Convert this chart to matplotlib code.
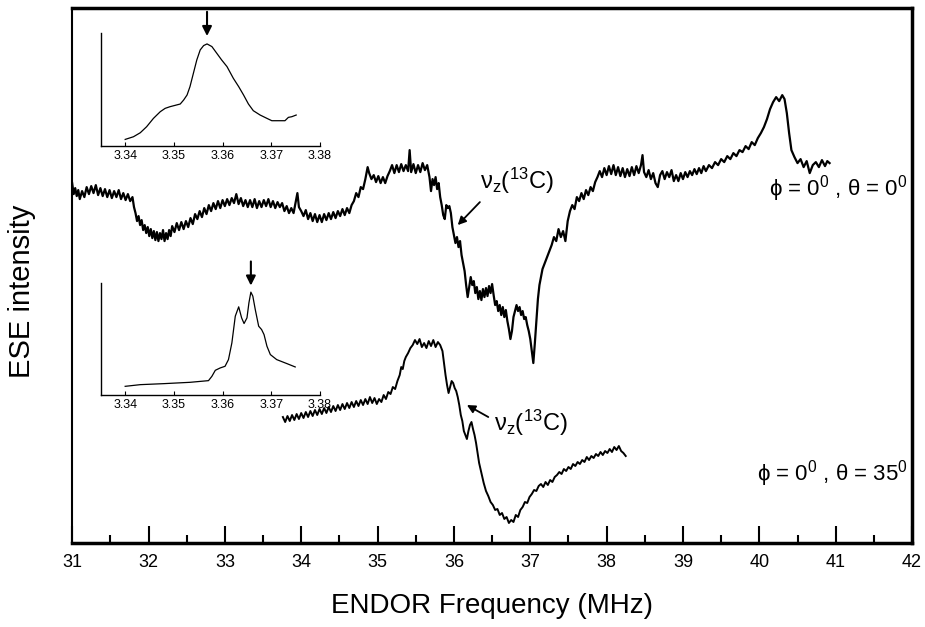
import numpy as np
import matplotlib
matplotlib.use('Agg')
import matplotlib.pyplot as plt

plt.rcParams['font.family'] = ['Liberation Sans', 'DejaVu Sans']
plt.rcParams['mathtext.fontset'] = 'custom'
plt.rcParams['mathtext.rm'] = 'Liberation Sans'
plt.rcParams['mathtext.it'] = 'Liberation Sans'
plt.rcParams['mathtext.default'] = 'regular'

## ---------------- data ----------------
# upper spectrum (phi = 0, theta = 0): (frequency MHz, intensity a.u.)
upper = [(31.00, 360), (31.02, 349), (31.04, 355), (31.06, 347), (31.08, 353), (31.10, 344),
         (31.13, 352), (31.16, 346), (31.19, 356), (31.22, 349), (31.25, 357), (31.28, 350),
         (31.31, 358), (31.34, 348), (31.37, 355), (31.40, 347), (31.43, 354), (31.46, 346),
         (31.49, 353), (31.52, 345), (31.55, 352), (31.58, 346), (31.61, 353), (31.64, 344),
         (31.67, 350), (31.70, 343), (31.73, 349), (31.76, 342), (31.79, 346), (31.81, 336),
         (31.83, 330), (31.85, 322), (31.87, 327), (31.89, 318), (31.91, 323), (31.93, 313),
         (31.95, 318), (31.97, 310), (31.99, 316), (32.01, 307), (32.03, 314), (32.05, 305),
         (32.07, 312), (32.09, 303), (32.11, 311), (32.13, 302), (32.15, 310), (32.17, 304),
         (32.19, 313), (32.21, 302), (32.23, 310), (32.25, 304), (32.27, 313), (32.29, 307),
         (32.31, 317), (32.34, 311), (32.37, 320), (32.40, 313), (32.43, 321), (32.46, 314),
         (32.49, 322), (32.52, 316), (32.55, 325), (32.58, 319), (32.61, 329), (32.64, 324),
         (32.67, 332), (32.70, 326), (32.73, 335), (32.76, 329), (32.79, 338), (32.82, 332),
         (32.85, 340), (32.88, 334), (32.91, 342), (32.94, 335), (32.97, 343), (33.00, 337),
         (33.03, 344), (33.06, 338), (33.09, 345), (33.12, 340), (33.15, 349), (33.18, 339),
         (33.21, 345), (33.24, 337), (33.27, 343), (33.30, 336), (33.33, 343), (33.36, 336),
         (33.39, 344), (33.42, 335), (33.45, 342), (33.48, 336), (33.51, 343), (33.54, 337),
         (33.57, 344), (33.60, 336), (33.63, 342), (33.66, 335), (33.69, 341), (33.72, 336),
         (33.75, 340), (33.78, 332), (33.81, 337), (33.84, 330), (33.87, 335), (33.90, 330),
         (33.93, 342), (33.95, 350), (33.97, 336), (34.00, 332), (34.03, 327), (34.06, 333),
         (34.09, 324), (34.12, 330), (34.15, 322), (34.18, 329), (34.21, 321), (34.24, 328),
         (34.27, 321), (34.30, 329), (34.33, 323), (34.36, 330), (34.39, 324), (34.42, 331),
         (34.45, 325), (34.48, 332), (34.51, 327), (34.54, 334), (34.57, 328), (34.60, 335),
         (34.63, 330), (34.66, 338), (34.69, 342), (34.72, 350), (34.75, 346), (34.78, 356),
         (34.81, 354), (34.84, 364), (34.87, 376), (34.89, 370), (34.92, 364), (34.95, 368),
         (34.98, 361), (35.01, 367), (35.04, 360), (35.07, 366), (35.10, 360), (35.13, 367),
         (35.16, 372), (35.19, 378), (35.22, 370), (35.25, 378), (35.28, 371), (35.31, 379),
         (35.34, 372), (35.37, 378), (35.40, 372), (35.42, 393), (35.44, 371), (35.47, 379),
         (35.50, 370), (35.53, 378), (35.56, 371), (35.59, 380), (35.62, 373), (35.65, 378),
         (35.68, 366), (35.70, 352), (35.72, 364), (35.74, 358), (35.76, 366), (35.78, 354),
         (35.80, 360), (35.82, 346), (35.84, 338), (35.86, 328), (35.88, 324), (35.90, 338),
         (35.92, 335), (35.94, 337), (35.96, 330), (35.98, 316), (36.00, 308), (36.02, 300),
         (36.04, 306), (36.06, 296), (36.08, 302), (36.10, 288), (36.12, 280), (36.14, 272),
         (36.16, 258), (36.18, 246), (36.20, 256), (36.22, 266), (36.24, 258), (36.26, 262),
         (36.28, 250), (36.30, 256), (36.32, 244), (36.34, 252), (36.36, 243), (36.38, 254),
         (36.40, 246), (36.42, 255), (36.44, 247), (36.46, 257), (36.48, 250), (36.50, 259),
         (36.52, 248), (36.54, 238), (36.56, 242), (36.58, 232), (36.60, 238), (36.62, 228),
         (36.64, 236), (36.66, 226), (36.68, 233), (36.70, 222), (36.72, 214), (36.74, 204),
         (36.76, 212), (36.78, 226), (36.80, 232), (36.82, 238), (36.84, 232), (36.86, 236),
         (36.88, 228), (36.90, 232), (36.92, 224), (36.94, 226), (36.96, 218), (36.98, 212),
         (37.00, 204), (37.02, 192), (37.04, 180), (37.06, 200), (37.08, 222), (37.10, 244),
         (37.12, 258), (37.14, 266), (37.16, 274), (37.19, 280), (37.22, 286), (37.25, 292),
         (37.28, 298), (37.31, 306), (37.34, 302), (37.37, 314), (37.40, 306), (37.43, 312),
         (37.46, 302), (37.49, 322), (37.52, 332), (37.55, 338), (37.58, 334), (37.61, 346),
         (37.64, 342), (37.67, 350), (37.70, 344), (37.73, 353), (37.76, 348), (37.79, 356),
         (37.82, 352), (37.85, 361), (37.88, 366), (37.91, 372), (37.94, 366), (37.97, 375),
         (38.00, 368), (38.03, 377), (38.06, 369), (38.09, 378), (38.12, 368), (38.15, 376),
         (38.18, 367), (38.21, 375), (38.24, 366), (38.27, 374), (38.30, 367), (38.33, 376),
         (38.36, 368), (38.39, 377), (38.42, 370), (38.45, 378), (38.47, 388), (38.49, 371),
         (38.52, 366), (38.55, 373), (38.58, 364), (38.61, 370), (38.64, 360), (38.67, 356),
         (38.70, 368), (38.73, 372), (38.76, 364), (38.79, 371), (38.82, 366), (38.85, 373),
         (38.88, 362), (38.91, 368), (38.94, 362), (38.97, 370), (39.00, 364), (39.03, 371),
         (39.06, 366), (39.09, 372), (39.12, 368), (39.15, 374), (39.18, 369), (39.21, 375),
         (39.24, 370), (39.27, 377), (39.30, 372), (39.34, 378), (39.38, 375), (39.42, 381),
         (39.46, 378), (39.50, 384), (39.54, 381), (39.58, 387), (39.62, 384), (39.66, 390),
         (39.70, 387), (39.74, 393), (39.78, 391), (39.82, 397), (39.86, 394), (39.90, 401),
         (39.94, 398), (39.98, 405), (40.02, 410), (40.06, 416), (40.10, 424), (40.14, 434),
         (40.18, 441), (40.22, 446), (40.26, 442), (40.30, 448), (40.33, 444), (40.36, 430),
         (40.39, 410), (40.42, 393), (40.46, 386), (40.50, 380), (40.54, 384), (40.58, 376),
         (40.62, 382), (40.66, 370), (40.70, 378), (40.74, 381), (40.78, 376), (40.82, 383),
         (40.86, 377), (40.89, 382), (40.92, 380)]

# lower spectrum (phi = 0, theta = 35)
lower = [(33.76, 126), (33.79, 121), (33.82, 127), (33.85, 122), (33.88, 128), (33.91, 123),
         (33.94, 129), (33.97, 124), (34.00, 130), (34.03, 125), (34.06, 131), (34.09, 126),
         (34.12, 132), (34.15, 127), (34.18, 133), (34.21, 128), (34.24, 134), (34.27, 129),
         (34.30, 135), (34.33, 130), (34.36, 136), (34.39, 131), (34.42, 137), (34.45, 132),
         (34.48, 138), (34.51, 133), (34.54, 139), (34.57, 134), (34.60, 140), (34.63, 135),
         (34.66, 141), (34.69, 136), (34.72, 142), (34.75, 137), (34.78, 143), (34.81, 138),
         (34.84, 144), (34.87, 139), (34.90, 146), (34.93, 140), (34.96, 145), (34.99, 139),
         (35.02, 144), (35.05, 141), (35.08, 148), (35.11, 144), (35.14, 151), (35.17, 149),
         (35.20, 156), (35.23, 154), (35.26, 162), (35.29, 168), (35.31, 176), (35.33, 174),
         (35.35, 182), (35.37, 186), (35.40, 190), (35.43, 195), (35.46, 198), (35.49, 203),
         (35.52, 199), (35.55, 204), (35.58, 196), (35.61, 200), (35.64, 195), (35.67, 202),
         (35.70, 197), (35.73, 203), (35.76, 196), (35.79, 201), (35.82, 198), (35.85, 192),
         (35.87, 180), (35.89, 168), (35.91, 158), (35.93, 150), (35.95, 156), (35.97, 162),
         (35.99, 160), (36.01, 155), (36.03, 152), (36.05, 146), (36.07, 138), (36.09, 128),
         (36.11, 122), (36.13, 112), (36.15, 108), (36.17, 104), (36.19, 112), (36.21, 118),
         (36.23, 121), (36.25, 114), (36.27, 108), (36.29, 100), (36.31, 90), (36.33, 80),
         (36.36, 70), (36.39, 60), (36.42, 52), (36.45, 47), (36.48, 41), (36.51, 38),
         (36.54, 33), (36.57, 34), (36.60, 28), (36.63, 30), (36.66, 24), (36.69, 26),
         (36.72, 20), (36.75, 23), (36.78, 21), (36.81, 28), (36.84, 26), (36.87, 33),
         (36.90, 36), (36.93, 41), (36.96, 40), (36.99, 46), (37.02, 49), (37.05, 53),
         (37.08, 52), (37.11, 57), (37.14, 59), (37.17, 56), (37.20, 61), (37.23, 58),
         (37.26, 63), (37.29, 61), (37.32, 66), (37.35, 68), (37.38, 71), (37.41, 69),
         (37.44, 74), (37.47, 72), (37.50, 76), (37.53, 74), (37.56, 79), (37.59, 77),
         (37.62, 81), (37.65, 79), (37.68, 83), (37.71, 81), (37.74, 86), (37.77, 83),
         (37.80, 87), (37.83, 85), (37.86, 89), (37.89, 87), (37.92, 91), (37.95, 88),
         (37.98, 92), (38.01, 90), (38.04, 94), (38.07, 91), (38.10, 96), (38.13, 93),
         (38.16, 97), (38.19, 92), (38.22, 90), (38.25, 87)]

# insets: EPR field sweep (T), intensity (a.u.)
field_in1 = [3.3400, 3.3417, 3.3431, 3.3444, 3.3458, 3.3472, 3.3482, 3.3492, 3.3513, 3.3520,
             3.3527, 3.3533, 3.3540, 3.3547, 3.3554, 3.3561, 3.3568, 3.3578, 3.3588, 3.3598,
             3.3609, 3.3622, 3.3633, 3.3643, 3.3653, 3.3663, 3.3677, 3.3691, 3.3701, 3.3728,
             3.3735, 3.3742, 3.3751]
int_in1 = [20, 28, 40, 58, 83, 103, 113, 118, 126, 138,
           153, 178, 218, 258, 288, 301, 306, 298, 278, 258,
           238, 203, 178, 153, 126, 106, 93, 83, 76, 76,
           86, 88, 93]
field_in2 = [3.3400, 3.3431, 3.3479, 3.3533, 3.3571, 3.3578, 3.3585, 3.3595, 3.3605, 3.3612,
             3.3619, 3.3626, 3.3633, 3.3639, 3.3644, 3.3650, 3.3654, 3.3658, 3.3662, 3.3667,
             3.3674, 3.3680, 3.3685, 3.3691, 3.3698, 3.3711, 3.3732, 3.3749]
int_in2 = [26, 31, 34, 38, 43, 56, 74, 81, 86, 106,
           156, 236, 264, 231, 214, 231, 276, 308, 296, 256,
           206, 196, 181, 146, 121, 106, 94, 84]
inset_ticks = [3.34, 3.35, 3.36, 3.37, 3.38]
field_mark1 = 3.3568
field_mark2 = 3.3658

freq_up, int_up = zip(*upper)
freq_lo, int_lo = zip(*lower)

## ---------------- figure ----------------
fig = plt.figure(figsize=(9.25, 6.27), dpi=100)
ax = fig.add_axes([0.078, 0.134, 0.908, 0.853])

ax.plot(freq_up, int_up, color='k', lw=1.6)
ax.plot(freq_lo, int_lo, color='k', lw=1.4)

ax.set_xlim(31, 42)
ax.set_ylim(0, 535)
ax.set_xticks(np.arange(31, 43, 1))
ax.set_xticks(np.arange(31.5, 42, 1), minor=True)
ax.set_yticks([])
ax.tick_params(axis='x', which='major', direction='in', length=12, width=1.5,
               labelsize=13, pad=8, top=False)
ax.tick_params(axis='x', which='minor', direction='in', length=6, width=1.5, top=False)
for s in ax.spines.values():
    s.set_linewidth(1.5)
ax.spines['bottom'].set_linewidth(2.5)
ax.spines['top'].set_linewidth(2.5)
ax.spines['right'].set_linewidth(2.5)
ax.set_xlabel('ENDOR Frequency (MHz)', fontsize=20, labelpad=16)
ax.set_ylabel('ESE intensity', fontsize=21)
ax.yaxis.set_label_coords(-0.043, 0.47)

# labels of the two spectra
ax.text(0.995, 0.662, r'$\phi$ = 0$^{0}$ , $\theta$ = 0$^{0}$', transform=ax.transAxes,
        ha='right', va='center', fontsize=16)
ax.text(0.995, 0.13, r'$\phi$ = 0$^{0}$ , $\theta$ = 35$^{0}$', transform=ax.transAxes,
        ha='right', va='center', fontsize=16)

# nu_z(13C) markers
arrow = dict(arrowstyle='-|>', color='k', lw=1.3, mutation_scale=12, shrinkA=0, shrinkB=0)
ax.annotate('', xy=(36.05, 318), xytext=(36.34, 341), arrowprops=arrow)
ax.text(36.34, 347, r'$\nu_z(^{13}$C)', fontsize=17, ha='left', va='bottom')
ax.annotate('', xy=(36.17, 138), xytext=(36.45, 126), arrowprops=arrow)
ax.text(36.53, 120, r'$\nu_z(^{13}$C)', fontsize=17, ha='left', va='center')

# insets with EPR spectra
def inset(rect, x, y, mark, top):
    a = fig.add_axes(rect)
    a.plot(x, y, color='k', lw=0.9)
    a.set_xlim(3.335, 3.38)
    a.set_ylim(0, top)
    a.set_xticks(inset_ticks)
    a.set_xticklabels(['%.2f' % t for t in inset_ticks])
    a.set_yticks([])
    a.tick_params(axis='x', direction='in', length=3, width=0.8, labelsize=9, pad=3)
    a.spines['top'].set_visible(False)
    a.spines['right'].set_visible(False)
    a.spines['left'].set_linewidth(1.0)
    a.spines['bottom'].set_linewidth(1.0)
    a.patch.set_alpha(0)
    a.annotate('', xy=(mark, top * 0.975), xytext=(mark, top * 1.19), annotation_clip=False,
               arrowprops=dict(arrowstyle='-|>', color='k', lw=1.5, mutation_scale=14,
                               shrinkA=0, shrinkB=0))
    return a

inset([0.109, 0.767, 0.237, 0.180], field_in1, int_in1, field_mark1, 338)
inset([0.109, 0.370, 0.237, 0.179], field_in2, int_in2, field_mark2, 336)

plt.savefig('out.png', dpi=100)
